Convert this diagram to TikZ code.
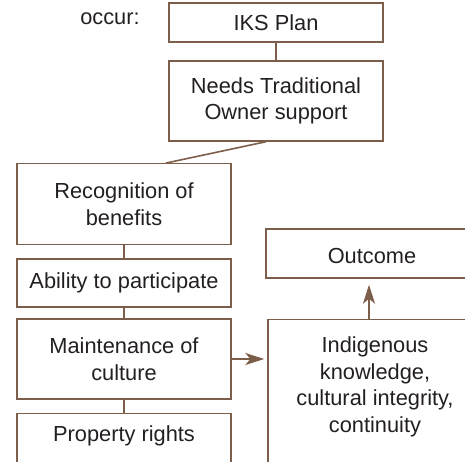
\documentclass[tikz,border=0pt]{standalone}
\usepackage{fontspec}
\setmainfont{Liberation Sans}
\usetikzlibrary{arrows.meta,calc}
\definecolor{brn}{RGB}{125,94,74}
\definecolor{txt}{RGB}{35,31,32}
\begin{document}
\begin{tikzpicture}[x=1pt,y=-1pt,
  box/.style={draw=brn,line width=1.4pt,inner sep=0pt,align=center,text=txt,
    font=\fontsize{21.8}{26.5}\selectfont},
  lbl/.style={inner sep=0pt,align=center,text=txt,font=\fontsize{21.8}{26.5}\selectfont},
  conn/.style={draw=brn,line width=1.6pt},
  arr/.style={conn,-{Stealth[length=19pt,width=12pt,inset=5pt]}}]
\useasboundingbox (0,0) rectangle (465,461);
\clip (0,0) rectangle (465,461);
\node[lbl] (occ) at (110,19) {occur:};
\node[box,minimum width=214pt,minimum height=39pt] (iks) at (276,22.5) {IKS Plan};
\node[box,minimum width=214pt,minimum height=80pt] (needs) at (276,101) {Needs Traditional\\Owner support};
\node[box,minimum width=214pt,minimum height=80.5pt] (rec) at (124,204) {Recognition of\\benefits};
\node[box,minimum width=214pt,minimum height=48pt] (abil) at (124,283) {Ability to participate};
\node[box,minimum width=214pt,minimum height=80pt] (maint) at (124,359) {Maintenance of\\culture};
\node[box,minimum width=214pt,minimum height=70pt,anchor=north] (prop) at (124,413) {};
\node[lbl] (proptxt) at (124,436) {Property rights};
\node[box,minimum width=212pt,minimum height=49pt] (out) at (372,253.5) {};
\node[lbl] (outtxt) at (372,255.5) {Outcome};
\node[box,minimum width=214pt,minimum height=160pt,anchor=north] (ind) at (375,319) {};
\node[lbl] (indtxt) at (375,387) {Indigenous\\knowledge,\\cultural integrity,\\continuity};
\draw[conn] (iks) -- (needs);
\draw[conn] ($(needs.south)+(-10,0)$) -- ($(rec.north)+(42,0)$);
\draw[conn] (rec) -- (abil);
\draw[conn] (abil) -- (maint);
\draw[conn] (maint) -- (prop);
\draw[arr] (maint.east) -- (maint.east -| ind.west) [shorten >=3pt];
\draw[arr,shorten >=6pt] ($(ind.north)+(-6,0)$) -- ($(out.south)+(-3,0)$);
\end{tikzpicture}
\end{document}
